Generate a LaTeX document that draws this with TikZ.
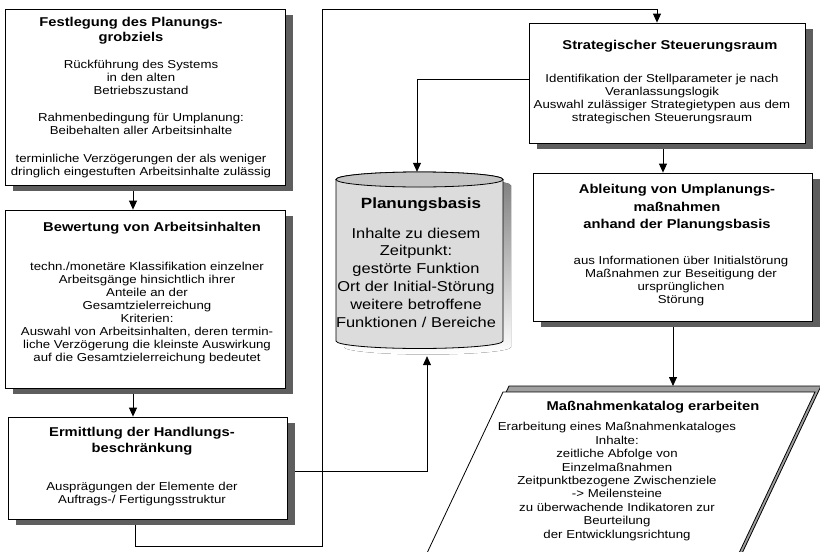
\documentclass[tikz,border=0pt]{standalone}
\usepackage{fontspec}
\setmainfont[FakeStretch=1.15]{Liberation Sans}
\usetikzlibrary{arrows.meta,shadows,calc}
\pgfdeclarelayer{background}
\pgfsetlayers{background,main}
\definecolor{shade}{HTML}{5E5E5E}
\definecolor{cylbody}{HTML}{DCDCDC}
\definecolor{cyltop}{HTML}{C4C4C4}
\definecolor{pgshade}{HTML}{A0A0A0}

\begin{document}
\begin{tikzpicture}[x=1pt,y=-1pt,
  box/.style={draw=black, line width=0.8pt, fill=white, inner sep=0pt,
    general shadow={fill=shade, shadow xshift=8pt, shadow yshift=-6pt}},
  ttl/.style={align=center, inner sep=0pt, font=\fontsize{12.8}{15.5}\selectfont\bfseries},
  txt/.style={align=center, inner sep=0pt, font=\fontsize{11.5}{12.9}\selectfont},
  conn/.style={draw=black, line width=0.8pt},
  arr/.style={conn, -{Triangle[width=8pt,length=9pt]}}
]
\useasboundingbox (0,0) rectangle (820,552);

% process boxes
\node[box, minimum width=280pt, minimum height=176pt] (b1) at (145,97) {};
\node[box, minimum width=280pt, minimum height=178pt] (b2) at (145,299) {};
\node[box, minimum width=279pt, minimum height=102pt] (b3) at (147.5,468) {};
\node[box, minimum width=276pt, minimum height=120pt] (b4) at (667,83) {};
\node[box, minimum width=279pt, minimum height=148pt] (b5) at (672.5,247) {};

% box texts
\node[ttl] (t1) at (131,30.5) {Festlegung des Planungs-\\grobziels};
\node[txt] (d1) at (141,119) {Rückführung des Systems\\in den alten\\Betriebszustand\\[15pt]Rahmenbedingung für Umplanung:\\Beibehalten aller Arbeitsinhalte\\[15pt]terminliche Verzögerungen der als weniger\\dringlich eingestuften Arbeitsinhalte zulässig};

\node[ttl] (t2) at (152,228) {Bewertung von Arbeitsinhalten};
\node[txt] (d2) at (147,313) {techn./monetäre Klassifikation einzelner\\Arbeitsgänge hinsichtlich ihrer\\Anteile an der\\Gesamtzielerreichung\\Kriterien:\\Auswahl von Arbeitsinhalten, deren termin-\\liche Verzögerung die kleinste Auswirkung\\auf die Gesamtzielerreichung bedeutet};

\node[ttl, font=\fontsize{12.8}{16.5}\selectfont\bfseries] (t3) at (142,441) {Ermittlung der Handlungs-\\beschränkung};
\node[txt] (d3) at (142,494) {Ausprägungen der Elemente der\\Auftrags-/ Fertigungsstruktur};

\node[ttl] (t4) at (670,46) {Strategischer Steuerungsraum};
\node[txt] (d4) at (662,99) {Identifikation der Stellparameter je nach\\Veranlassungslogik\\Auswahl zulässiger Strategietypen aus dem\\strategischen Steuerungsraum};

\node[ttl, font=\fontsize{12.8}{17.5}\selectfont\bfseries] (t5) at (677,208) {Ableitung von Umplanungs-\\maßnahmen\\anhand der Planungsbasis};
\node[txt] (d5) at (681,281) {aus Informationen über Initialstörung\\Maßnahmen zur Beseitigung der\\ursprünglichen\\Störung};

% database cylinder
\begin{scope}[shift={(8,6)}]
  \fill[shade] (336,179.5) -- (336,341) arc[start angle=180, end angle=0, x radius=83.5, y radius=7.5]
    -- (503,179.5) arc[start angle=0, end angle=-180, x radius=83.5, y radius=7.5] -- cycle;
\end{scope}
\draw[line width=0.8pt, fill=cylbody] (336,179.5) -- (336,341) arc[start angle=180, end angle=0, x radius=83.5, y radius=7.5]
  -- (503,179.5) arc[start angle=0, end angle=-180, x radius=83.5, y radius=7.5] -- cycle;
\draw[line width=0.8pt, fill=cyltop] (419.5,179.5) ellipse[x radius=83.5, y radius=7.5];
\node[inner sep=0pt, minimum width=167pt, minimum height=184pt] (cyl) at (419.5,264) {};
\node[ttl, font=\fontsize{14.8}{17}\selectfont\bfseries] (tc) at (421,205) {Planungsbasis};
\node[txt, font=\fontsize{14.3}{17.8}\selectfont] (dc) at (416,277.5) {Inhalte zu diesem\\Zeitpunkt:\\gestörte Funktion\\Ort der Initial-Störung\\weitere betroffene\\Funktionen / Bereiche};

% input/output parallelogram
\filldraw[fill=pgshade, draw=black, line width=0.8pt] (509,386) -- (821,386) -- (737,564) -- (425,564) -- cycle;
\filldraw[fill=white, draw=black, line width=0.8pt] (503,392) -- (815,392) -- (731,570) -- (419,570) -- cycle;
\coordinate (pgtop) at (673,386);
\node[ttl] (t6) at (653,407) {Maßnahmenkatalog erarbeiten};
\node[txt, font=\fontsize{11.5}{13.4}\selectfont] (d6) at (617,481.5) {Erarbeitung eines Maßnahmenkataloges\\Inhalte:\\zeitliche Abfolge von\\Einzelmaßnahmen\\Zeitpunktbezogene Zwischenziele\\-> Meilensteine\\zu überwachende Indikatoren zur\\Beurteilung\\der Entwicklungsrichtung};

% connector routing points
\coordinate (c1) at (133,0);
\coordinate (k1) at (427,471);
\coordinate (k2) at (417,79);
\coordinate (k3) at (663,0);
\coordinate (r1) at (135,546);
\coordinate (r2) at (322,546);
\coordinate (r3) at (322,9);
\coordinate (r4) at (657,9);

\begin{pgfonlayer}{background}
  \fill[white] (0,0) rectangle (820,552);
  \draw[arr] (b1.south -| c1) -- (b2.north -| c1);
  \draw[arr] (b2.south -| c1) -- (b3.north -| c1);
  \draw[arr] (b3.east |- k1) -- (k1) -- (cyl.south -| k1);
  \draw[arr] (b3.south -| r1) -- (r1) -- (r2) -- (r3) -- (r4) -- (b4.north -| r4);
  \draw[arr] (b4.west |- k2) -- (k2) -- (cyl.north -| k2);
  \draw[arr] (b4.south -| k3) -- (b5.north -| k3);
  \draw[arr] (b5.south -| pgtop) -- (pgtop);
\end{pgfonlayer}
\end{tikzpicture}
\end{document}
